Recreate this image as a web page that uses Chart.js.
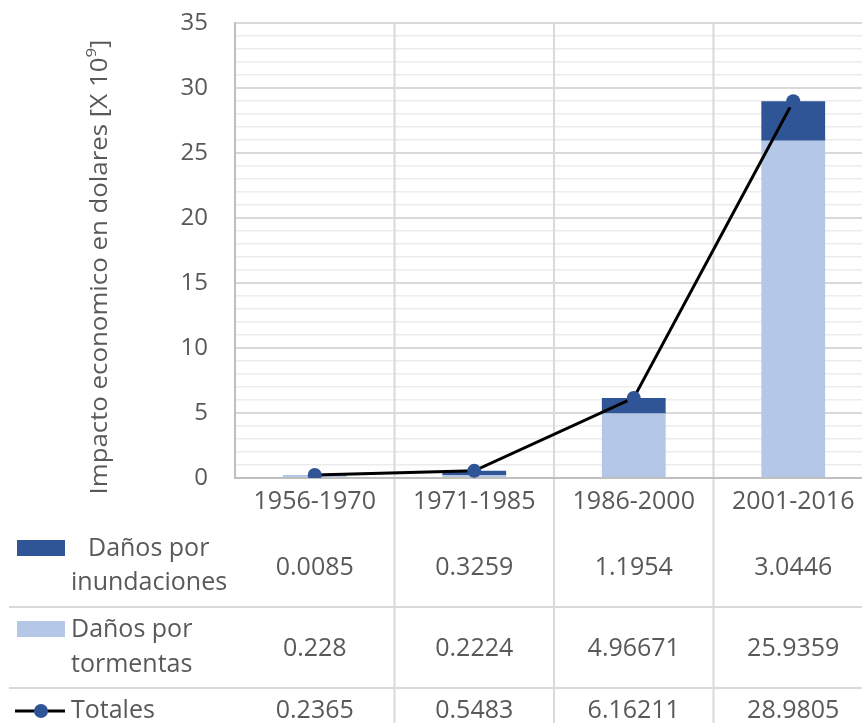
<!DOCTYPE html>
<html>
<head>
<meta charset="utf-8">
<script src="https://cdn.jsdelivr.net/npm/chart.js@4"></script>
<style>
	html, body { margin: 0; padding: 0; background: #fff; overflow: hidden; }
	#grafico { display: block; }
</style>
</head>
<body>
<canvas id="grafico" width="880" height="723"></canvas>
<script>
// **DATOS**
const categorias = ['1956-1970', '1971-1985', '1986-2000', '2001-2016'];
const inundaciones = [0.0085, 0.3259, 1.1954, 3.0446];
const tormentas = [0.228, 0.2224, 4.96671, 25.9359];
const totales = [0.2365, 0.5483, 6.16211, 28.9805];
const ticksY = [0, 5, 10, 15, 20, 25, 30, 35];

const AZUL_OSCURO = '#2F5597';
const AZUL_CLARO = '#B4C7E7';
const GRIS_TEXTO = '#595959';
const GRIS_LINEA = '#d9d9d9';
const FUENTE = '"Open Sans", sans-serif';

/**
 * Dibuja el título del eje Y con el exponente.
 */
function dibujarTituloY(ctx) {
	const base = 'Impacto economico en dolares [X 10';
	ctx.save();
	ctx.translate(100, 267);
	ctx.rotate(-Math.PI / 2);
	ctx.fillStyle = GRIS_TEXTO;
	ctx.textBaseline = 'middle';
	ctx.textAlign = 'left';
	ctx.font = '23px ' + FUENTE;
	const w1 = ctx.measureText(base).width;
	const w3 = ctx.measureText(']').width;
	ctx.font = '15px ' + FUENTE;
	const w2 = ctx.measureText('9').width;
	const total = w1 + w2 + w3;
	// el original ocupa unos 455 px de largo
	ctx.scale(455 / total, 1);
	const x0 = -total / 2;
	ctx.font = '23px ' + FUENTE;
	ctx.fillText(base, x0, 0);
	ctx.font = '15px ' + FUENTE;
	ctx.fillText('9', x0 + w1, -8);
	ctx.font = '23px ' + FUENTE;
	ctx.fillText(']', x0 + w1 + w2, 0);
	ctx.restore();
}

// **PLUGIN DE LA TABLA**
const tablaDatos = {
	id: 'tablaDatos',
	beforeDatasetsDraw(chart) {
		const { ctx, chartArea, scales: { x } } = chart;
		const paso = x.getPixelForValue(1) - x.getPixelForValue(0);
		ctx.save();
		// líneas verticales entre categorías
		ctx.strokeStyle = GRIS_LINEA;
		ctx.lineWidth = 2;
		for (let i = 1; i <= categorias.length; i++) {
			const xl = x.getPixelForValue(i) - paso / 2;
			ctx.beginPath();
			ctx.moveTo(xl, chartArea.top);
			ctx.lineTo(xl, chart.height);
			ctx.stroke();
		}
		// eje inferior
		ctx.strokeStyle = '#bfbfbf';
		ctx.beginPath();
		ctx.moveTo(chartArea.left, chartArea.bottom);
		ctx.lineTo(chart.width, chartArea.bottom);
		ctx.stroke();
		ctx.restore();
	},
	afterDraw(chart) {
		const { ctx, scales: { x } } = chart;
		ctx.save();
		dibujarTituloY(ctx);

		// separadores de filas
		ctx.strokeStyle = GRIS_LINEA;
		ctx.lineWidth = 2;
		[607, 688].forEach(y => {
			ctx.beginPath();
			ctx.moveTo(9, y);
			ctx.lineTo(chart.width, y);
			ctx.stroke();
		});

		ctx.font = '25px ' + FUENTE;
		ctx.fillStyle = GRIS_TEXTO;
		ctx.textBaseline = 'middle';

		// etiquetas de categorías y valores
		ctx.textAlign = 'center';
		categorias.forEach((cat, i) => {
			const cx = x.getPixelForValue(i);
			ctx.fillText(cat, cx, 502);
			ctx.fillText(String(inundaciones[i]), cx, 568);
			ctx.fillText(String(tormentas[i]), cx, 649);
			ctx.fillText(String(totales[i]), cx, 711);
		});

		// leyenda
		ctx.textAlign = 'left';
		ctx.fillStyle = AZUL_OSCURO;
		ctx.fillRect(17, 540, 48, 16);
		ctx.fillStyle = AZUL_CLARO;
		ctx.fillRect(17, 621, 48, 16);
		ctx.fillStyle = GRIS_TEXTO;
		ctx.fillText('Daños por', 88, 549);
		ctx.fillText('inundaciones', 71, 583);
		ctx.fillText('Daños por', 71, 630);
		ctx.fillText('tormentas', 71, 665);
		ctx.fillText('Totales', 71, 711);

		ctx.strokeStyle = '#000';
		ctx.lineWidth = 3;
		ctx.beginPath();
		ctx.moveTo(15, 711);
		ctx.lineTo(65, 711);
		ctx.stroke();
		ctx.fillStyle = AZUL_OSCURO;
		ctx.beginPath();
		ctx.arc(41, 711, 7, 0, Math.PI * 2);
		ctx.fill();
		ctx.restore();
	}
};

// **GRÁFICO**
function crearGrafico() {
	new Chart(document.getElementById('grafico'), {
		data: {
			labels: categorias,
			datasets: [
				{
					type: 'line',
					label: 'Totales',
					data: totales,
					stack: 'totales',
					order: 0,
					borderColor: '#000',
					borderWidth: 3,
					pointRadius: 7,
					pointBackgroundColor: AZUL_OSCURO,
					pointBorderColor: AZUL_OSCURO,
					pointBorderWidth: 0,
				},
				{
					type: 'bar',
					label: 'Daños por tormentas',
					data: tormentas,
					stack: 'danos',
					order: 1,
					backgroundColor: AZUL_CLARO,
					barPercentage: 0.4,
					categoryPercentage: 1,
				},
				{
					type: 'bar',
					label: 'Daños por inundaciones',
					data: inundaciones,
					stack: 'danos',
					order: 1,
					backgroundColor: AZUL_OSCURO,
					barPercentage: 0.4,
					categoryPercentage: 1,
				},
			],
		},
		options: {
			responsive: false,
			animation: false,
			devicePixelRatio: 1,
			layout: { padding: { top: 23, right: 5, bottom: 245, left: 0 } },
			plugins: { legend: { display: false }, tooltip: { enabled: false } },
			scales: {
				x: {
					display: false,
					stacked: true,
				},
				y: {
					stacked: true,
					min: 0,
					max: 35,
					afterFit: scale => {
						scale.width = 235;
						scale.paddingTop = 0;
						scale.paddingBottom = 0;
					},
					afterBuildTicks: scale => {
						// divisiones menores cada 1, etiquetas sólo en ticksY
						const ticks = [];
						for (let v = 0; v <= 35; v++) ticks.push({ value: v });
						scale.ticks = ticks;
					},
					ticks: {
						autoSkip: false,
						padding: 27,
						color: GRIS_TEXTO,
						font: { family: '"Open Sans", sans-serif', size: 24 },
						callback: v => ticksY.includes(v) ? String(v) : '',
					},
					grid: {
						drawTicks: false,
						color: c => ticksY.includes(c.tick.value) ? GRIS_LINEA : '#ececec',
						lineWidth: c => ticksY.includes(c.tick.value) ? 2 : 1.5,
					},
					border: { color: '#bfbfbf', width: 2 },
				},
			},
		},
		plugins: [tablaDatos],
	});
}

document.addEventListener('DOMContentLoaded', crearGrafico);
</script>
</body>
</html>
